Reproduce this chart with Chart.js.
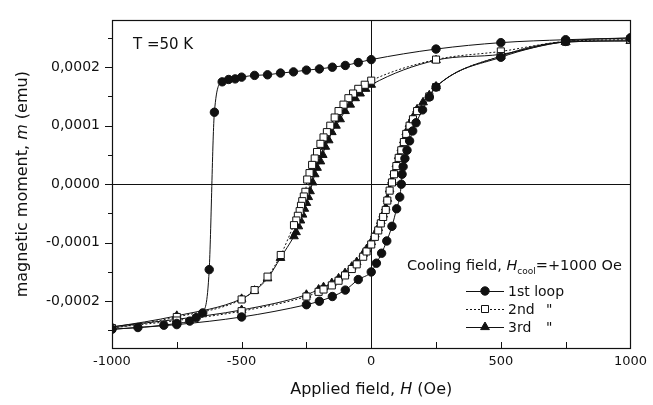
<!DOCTYPE html>
<html>
<head>
<meta charset="utf-8">
<script src="https://cdn.jsdelivr.net/npm/chart.js@4/dist/chart.umd.min.js"></script>
<style>
  html, body { margin: 0; padding: 0; background: #fff; }
  #wrap { width: 653px; height: 405px; }
</style>
</head>
<body>
<div id="wrap"><canvas id="chart" width="653" height="405"></canvas></div>
<script>
// 1st loop: descending branch (+1000 -> -1000) then ascending (-1000 -> +1000)
const h1 = [1000, 750, 500, 250, 0, -50, -100, -150, -200, -250, -300, -350, -400, -450, -500, -525, -550, -575, -605, -625, -650, -675, -700, -750, -800, -900, -1000,
            -750, -500, -250, -200, -150, -100, -50, 0, 20, 40, 60, 80, 98, 110, 116, 119, 123, 130, 138, 148, 160, 173, 198, 224, 250, 500, 750, 1000];
const m1 = [2.50e-4, 2.47e-4, 2.42e-4, 2.31e-4, 2.13e-4, 2.08e-4, 2.03e-4, 2.00e-4, 1.97e-4, 1.95e-4, 1.92e-4, 1.90e-4, 1.87e-4, 1.86e-4, 1.83e-4, 1.80e-4, 1.79e-4, 1.75e-4, 1.23e-4, -1.46e-4, -2.20e-4, -2.28e-4, -2.34e-4, -2.38e-4, -2.41e-4, -2.45e-4, -2.48e-4,
            -2.40e-4, -2.27e-4, -2.06e-4, -2.00e-4, -1.92e-4, -1.81e-4, -1.63e-4, -1.50e-4, -1.35e-4, -1.18e-4, -0.97e-4, -0.72e-4, -0.42e-4, -0.22e-4, 0.00e-4, 0.17e-4, 0.30e-4, 0.44e-4, 0.58e-4, 0.74e-4, 0.91e-4, 1.05e-4, 1.27e-4, 1.49e-4, 1.66e-4, 2.17e-4, 2.44e-4, 2.50e-4];

// 2nd loop
const h2 = [1000, 750, 500, 250, 0, -25, -50, -70, -88, -107, -126, -141, -158, -171, -184, -196, -209, -218, -228, -238, -247, -254, -260, -266, -271, -276, -283, -289, -298, -349, -400, -450, -500, -750, -1000,
            -750, -500, -250, -203, -184, -152, -126, -101, -75, -56, -31, -18, 0, 14, 27, 37, 46, 56, 62, 71, 80, 88, 97, 106, 116, 126, 135, 148, 161, 177, 224, 250, 500, 750, 1000];
const m2 = [2.47e-4, 2.44e-4, 2.27e-4, 2.13e-4, 1.77e-4, 1.70e-4, 1.63e-4, 1.55e-4, 1.47e-4, 1.36e-4, 1.25e-4, 1.14e-4, 1.00e-4, 0.89e-4, 0.80e-4, 0.69e-4, 0.55e-4, 0.44e-4, 0.33e-4, 0.19e-4, 0.08e-4, -0.13e-4, -0.21e-4, -0.29e-4, -0.37e-4, -0.46e-4, -0.54e-4, -0.62e-4, -0.70e-4, -1.21e-4, -1.58e-4, -1.81e-4, -1.97e-4, -2.27e-4, -2.46e-4,
            -2.33e-4, -2.17e-4, -1.92e-4, -1.84e-4, -1.80e-4, -1.73e-4, -1.65e-4, -1.56e-4, -1.45e-4, -1.37e-4, -1.24e-4, -1.15e-4, -1.03e-4, -0.90e-4, -0.79e-4, -0.67e-4, -0.56e-4, -0.44e-4, -0.28e-4, -0.11e-4, 0.03e-4, 0.17e-4, 0.31e-4, 0.45e-4, 0.58e-4, 0.72e-4, 0.86e-4, 1.00e-4, 1.11e-4, 1.25e-4, 1.50e-4, 1.66e-4, 2.19e-4, 2.44e-4, 2.47e-4];

// 3rd loop
const h3 = [1000, 750, 500, 250, 0, -22, -43, -62, -81, -101, -120, -136, -152, -164, -177, -187, -196, -209, -218, -226, -236, -243, -250, -258, -265, -273, -281, -290, -298, -350, -400, -450, -500, -750, -1000,
            -750, -500, -250, -203, -184, -152, -126, -101, -75, -56, -31, -18, 0, 14, 27, 37, 46, 56, 62, 71, 80, 88, 97, 106, 116, 126, 135, 148, 161, 177, 200, 224, 250, 500, 750, 1000];
const m3 = [2.45e-4, 2.43e-4, 2.22e-4, 2.12e-4, 1.70e-4, 1.63e-4, 1.55e-4, 1.47e-4, 1.36e-4, 1.25e-4, 1.11e-4, 1.00e-4, 0.89e-4, 0.75e-4, 0.64e-4, 0.50e-4, 0.39e-4, 0.28e-4, 0.17e-4, 0.03e-4, -0.12e-4, -0.22e-4, -0.32e-4, -0.42e-4, -0.52e-4, -0.62e-4, -0.72e-4, -0.82e-4, -0.89e-4, -1.26e-4, -1.61e-4, -1.82e-4, -1.96e-4, -2.25e-4, -2.44e-4,
            -2.31e-4, -2.15e-4, -1.89e-4, -1.80e-4, -1.76e-4, -1.69e-4, -1.61e-4, -1.52e-4, -1.41e-4, -1.33e-4, -1.19e-4, -1.11e-4, -0.99e-4, -0.86e-4, -0.75e-4, -0.63e-4, -0.52e-4, -0.40e-4, -0.25e-4, -0.09e-4, 0.06e-4, 0.20e-4, 0.34e-4, 0.48e-4, 0.61e-4, 0.75e-4, 0.89e-4, 1.03e-4, 1.14e-4, 1.28e-4, 1.40e-4, 1.52e-4, 1.67e-4, 2.19e-4, 2.43e-4, 2.45e-4];

// axes
const xTicks = [-1000, -750, -500, -250, 0, 250, 500, 750, 1000];
const xLabels = [-1000, -500, 0, 500, 1000];
const yTicks = [-2.5e-4, -2e-4, -1.5e-4, -1e-4, -0.5e-4, 0, 0.5e-4, 1e-4, 1.5e-4, 2e-4, 2.5e-4];
const yLabels = [-2e-4, -1e-4, 0, 1e-4, 2e-4];

const FONT = '"DejaVu Sans", sans-serif';
const INK = '#111';

function toPoints(hs, ms) {
    return hs.map((h, i) => ({ x: h, y: ms[i] }));
}

function fmtY(v) {
    if (Math.abs(v) < 1e-12) return '0,0000';
    return v.toFixed(4).replace('.', ',');
}

// draws a sequence of text runs with different styles, left aligned
function drawRuns(ctx, runs, x, y) {
    let cx = x;
    runs.forEach(r => {
        ctx.font = r.font;
        ctx.fillText(r.text, cx, y + (r.dy || 0));
        cx += ctx.measureText(r.text).width;
    });
    return cx - x;
}

function runsWidth(ctx, runs) {
    let w = 0;
    runs.forEach(r => { ctx.font = r.font; w += ctx.measureText(r.text).width; });
    return w;
}

function marker(ctx, style, x, y) {
    ctx.save();
    ctx.lineWidth = 1;
    ctx.strokeStyle = INK;
    ctx.beginPath();
    if (style === 'circle') {
        ctx.fillStyle = INK;
        ctx.arc(x, y, 4.2, 0, Math.PI * 2);
    } else if (style === 'rect') {
        ctx.fillStyle = '#fff';
        ctx.rect(x - 3.5, y - 3.5, 7, 7);
    } else {
        ctx.fillStyle = INK;
        ctx.moveTo(x, y - 5);
        ctx.lineTo(x + 4.4, y + 2.6);
        ctx.lineTo(x - 4.4, y + 2.6);
        ctx.closePath();
    }
    ctx.fill();
    ctx.stroke();
    ctx.restore();
}

const framePlugin = {
    id: 'frame',
    beforeDatasetsDraw(chart) {
        const { ctx, chartArea: a, scales } = chart;
        const x0 = Math.round(scales.x.getPixelForValue(0)) + 0.5;
        const y0 = Math.round(scales.y.getPixelForValue(0)) + 0.5;
        ctx.save();
        ctx.strokeStyle = INK;
        ctx.lineWidth = 1;
        ctx.beginPath();
        ctx.moveTo(x0, a.top); ctx.lineTo(x0, a.bottom);
        ctx.moveTo(a.left, y0); ctx.lineTo(a.right, y0);
        ctx.stroke();
        ctx.restore();
    },
    afterDatasetsDraw(chart) {
        const { ctx, chartArea: a, scales } = chart;
        ctx.save();
        ctx.strokeStyle = INK;
        ctx.lineWidth = 1.2;
        ctx.strokeRect(Math.round(a.left) + 0.5, Math.round(a.top) + 0.5,
                       Math.round(a.right - a.left), Math.round(a.bottom - a.top));

        // ticks: x inward, y outward
        ctx.lineWidth = 1;
        ctx.beginPath();
        xTicks.forEach(v => {
            const px = Math.round(scales.x.getPixelForValue(v)) + 0.5;
            ctx.moveTo(px, a.bottom); ctx.lineTo(px, a.bottom - 6);
        });
        yTicks.forEach(v => {
            const py = Math.round(scales.y.getPixelForValue(v)) + 0.5;
            const major = yLabels.some(l => Math.abs(l - v) < 1e-9);
            ctx.moveTo(a.left, py); ctx.lineTo(a.left - (major ? 7 : 4), py);
        });
        ctx.stroke();

        ctx.fillStyle = INK;
        ctx.textBaseline = 'alphabetic';

        // x title
        const xt = [
            { text: 'Applied field, ', font: '16px ' + FONT },
            { text: 'H', font: 'italic 16px ' + FONT },
            { text: ' (Oe)', font: '16px ' + FONT }
        ];
        drawRuns(ctx, xt, (a.left + a.right) / 2 - runsWidth(ctx, xt) / 2, 394);

        // y title
        const yt = [
            { text: 'magnetic moment, ', font: '16px ' + FONT },
            { text: 'm', font: 'italic 16px ' + FONT },
            { text: ' (emu)', font: '16px ' + FONT }
        ];
        ctx.save();
        ctx.translate(27, (a.top + a.bottom) / 2);
        ctx.rotate(-Math.PI / 2);
        drawRuns(ctx, yt, -runsWidth(ctx, yt) / 2, 0);
        ctx.restore();

        // temperature label
        ctx.font = '15px ' + FONT;
        ctx.fillText('T =50 K', 133, 49);

        // legend
        drawRuns(ctx, [
            { text: 'Cooling field, ', font: '14.5px ' + FONT },
            { text: 'H', font: 'italic 14.5px ' + FONT },
            { text: 'cool', font: '9px ' + FONT, dy: 4 },
            { text: '=+1000 Oe', font: '14.5px ' + FONT }
        ], 407, 270);

        const rows = [
            { y: 291, style: 'circle', dash: [], text: '1st loop', ditto: false },
            { y: 309, style: 'rect', dash: [2, 2], text: '2nd', ditto: true },
            { y: 327, style: 'triangle', dash: [], text: '3rd', ditto: true }
        ];
        rows.forEach(r => {
            ctx.save();
            ctx.setLineDash(r.dash);
            ctx.lineWidth = 1;
            ctx.beginPath();
            ctx.moveTo(466, r.y + 0.5); ctx.lineTo(504, r.y + 0.5);
            ctx.stroke();
            ctx.restore();
            marker(ctx, r.style, 485, r.y);
            ctx.font = '14px ' + FONT;
            ctx.fillText(r.text, 508, r.y + 5);
            if (r.ditto) ctx.fillText('"', 546, r.y + 5);
        });
        ctx.restore();
    }
};

new Chart(document.getElementById('chart'), {
    type: 'line',
    data: {
        datasets: [
            {
                label: '1st loop',
                data: toPoints(h1, m1),
                borderColor: INK,
                borderWidth: 1,
                pointStyle: 'circle',
                pointRadius: 4.2,
                pointBackgroundColor: INK,
                pointBorderColor: INK,
                pointBorderWidth: 1,
                cubicInterpolationMode: 'monotone'
            },
            {
                label: '2nd',
                data: toPoints(h2, m2),
                borderColor: INK,
                borderWidth: 1,
                borderDash: [2, 2],
                pointStyle: 'rect',
                pointRadius: 5,
                pointBackgroundColor: '#fff',
                pointBorderColor: INK,
                pointBorderWidth: 1,
                cubicInterpolationMode: 'monotone'
            },
            {
                label: '3rd',
                data: toPoints(h3, m3),
                borderColor: INK,
                borderWidth: 1,
                pointStyle: 'triangle',
                pointRadius: 5,
                pointBackgroundColor: INK,
                pointBorderColor: INK,
                pointBorderWidth: 1,
                cubicInterpolationMode: 'monotone'
            }
        ]
    },
    options: {
        responsive: false,
        animation: false,
        layout: { padding: { top: 9, right: 18, left: 0, bottom: 0 } },
        plugins: {
            legend: { display: false },
            tooltip: { enabled: false }
        },
        scales: {
            x: {
                type: 'linear',
                min: -1000,
                max: 1000,
                grid: { display: false, drawTicks: false },
                border: { display: false },
                afterFit(scale) { scale.height = 57; },
                afterBuildTicks(scale) { scale.ticks = xLabels.map(v => ({ value: v })); },
                ticks: {
                    autoSkip: false,
                    maxRotation: 0,
                    padding: 6,
                    color: INK,
                    font: { family: FONT, size: 13 },
                    callback: v => String(v)
                }
            },
            y: {
                type: 'linear',
                min: -2.8e-4,
                max: 2.8e-4,
                grid: { display: false, drawTicks: false },
                border: { display: false },
                afterFit(scale) { scale.width = 112; },
                afterBuildTicks(scale) { scale.ticks = yLabels.map(v => ({ value: v })); },
                ticks: {
                    autoSkip: false,
                    padding: 12,
                    color: INK,
                    font: { family: FONT, size: 14 },
                    callback: v => fmtY(v)
                }
            }
        }
    },
    plugins: [framePlugin]
});
</script>
</body>
</html>
